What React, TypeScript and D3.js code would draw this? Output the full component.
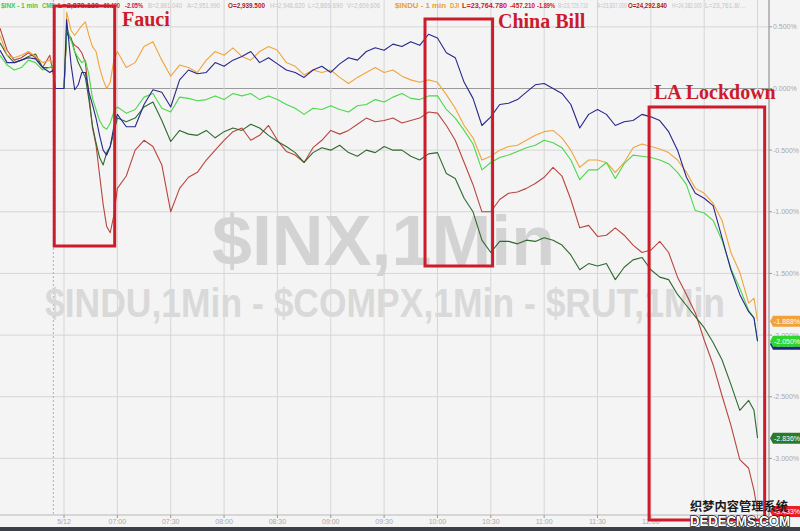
import React from 'react';
import * as d3 from 'd3';

// minutes relative to 06:30 (5/12 open)
const MINUTES = [-36, -32, -28, -24, -20, -16, -12, -8, -6, -5, 0, 1.5, 4, 6, 8, 10, 12, 14, 16, 18, 20, 22, 24, 26, 28, 30,
  35, 40, 45, 50, 55, 60, 65, 70, 75, 80, 85, 90, 95, 100, 105, 110, 115, 120, 125, 130, 135, 140, 145, 150, 155, 160,
  165, 170, 175, 180, 185, 190, 195, 200, 205, 210, 215, 220, 225, 230, 235, 240, 245, 250, 255, 260, 265, 270, 275,
  280, 285, 290, 295, 300, 305, 310, 315, 320, 325, 330, 335, 340, 345, 350, 355, 360, 365, 370, 375, 380, 385, 388, 390];

const NAVY_SERIES = [0.31, 0.21, 0.21, 0.23, 0.25, 0.24, 0.17, 0.13, 0.15, 0, 0,
  0.56, 0.19, -0.01, 0.03, 0.13, 0.13, -0.03, -0.13, -0.24, -0.38, -0.50, -0.54, -0.47, -0.31, -0.21,
  -0.31, -0.31, -0.13, -0.01, -0.03, -0.15, 0.07, 0.15, 0.12, 0.13, 0.21, 0.18, 0.23, 0.26, 0.30, 0.21, 0.25, 0.20, 0.15,
  0.13, 0.09, 0.15, 0.18, 0.13, 0.20, 0.25, 0.23, 0.30, 0.33, 0.31, 0.36, 0.34, 0.38, 0.35, 0.44, 0.41, 0.29, 0.25, 0.05,
  -0.08, -0.30, -0.23, -0.13, -0.12, -0.09, -0.03, 0.03, 0.04, 0.00, -0.04, -0.13, -0.32, -0.21, -0.17, -0.21, -0.30,
  -0.27, -0.26, -0.21, -0.23, -0.26, -0.35, -0.50, -0.72, -0.85, -0.89, -0.95, -1.21, -1.47, -1.67, -1.81, -1.86, -2.05];

const INDU = [0.43, 0.27, 0.25, 0.27, 0.30, 0.26, 0.21, 0.23, 0.21, 0, 0,
  0.62, 0.47, 0.43, 0.47, 0.51, 0.54, 0.43, 0.34, 0.30, 0.17, 0.07, 0.00, 0.05, 0.23, 0.30,
  0.17, 0.21, 0.34, 0.38, 0.23, 0.10, 0.19, 0.17, 0.13, 0.23, 0.30, 0.27, 0.33, 0.26, 0.23, 0.30, 0.34, 0.31, 0.21,
  0.18, 0.11, 0.15, 0.13, 0.15, 0.09, 0.04, 0.09, 0.13, 0.17, 0.13, 0.15, 0.10, 0.07, 0.05, 0.07, 0.05, -0.05, -0.16, -0.30,
  -0.40, -0.58, -0.55, -0.50, -0.47, -0.46, -0.42, -0.38, -0.35, -0.34, -0.40, -0.50, -0.64, -0.58, -0.58, -0.60, -0.68,
  -0.60, -0.48, -0.45, -0.47, -0.49, -0.52, -0.58, -0.68, -0.81, -0.85, -0.93, -1.07, -1.33, -1.49, -1.74, -1.70, -1.888];

const INX = [0.27, 0.19, 0.15, 0.17, 0.23, 0.21, 0.15, 0.17, 0.19, 0, 0,
  0.50, 0.39, 0.30, 0.25, 0.21, 0.23, 0.11, -0.08, -0.17, -0.26, -0.31, -0.33, -0.28, -0.19, -0.15,
  -0.20, -0.17, -0.07, -0.04, -0.16, -0.19, -0.07, -0.08, -0.10, -0.09, -0.06, -0.09, -0.04, -0.06, -0.04, -0.09, -0.06,
  -0.09, -0.13, -0.16, -0.21, -0.16, -0.17, -0.14, -0.17, -0.19, -0.14, -0.13, -0.09, -0.11, -0.07, -0.04, -0.08, -0.09,
  -0.06, -0.06, -0.17, -0.24, -0.34, -0.45, -0.66, -0.60, -0.56, -0.54, -0.51, -0.48, -0.46, -0.42, -0.44, -0.48, -0.58,
  -0.74, -0.66, -0.66, -0.60, -0.73, -0.61, -0.54, -0.55, -0.56, -0.58, -0.61, -0.68, -0.78, -0.99, -1.01, -1.07, -1.23,
  -1.46, -1.62, -1.80, -1.86, -2.05];

const DKGREEN_SERIES = [0.37, 0.27, 0.21, 0.23, 0.26, 0.28, 0.17, 0.17, 0.18, 0, 0,
  0.46, 0.41, 0.30, 0.21, 0.15, 0.09, -0.09, -0.30, -0.44, -0.56, -0.62, -0.52, -0.47, -0.36, -0.24,
  -0.27, -0.24, -0.15, -0.11, -0.26, -0.43, -0.34, -0.37, -0.38, -0.34, -0.40, -0.35, -0.32, -0.34, -0.29, -0.32, -0.38,
  -0.43, -0.47, -0.52, -0.60, -0.52, -0.48, -0.50, -0.46, -0.52, -0.55, -0.50, -0.52, -0.47, -0.50, -0.50, -0.55, -0.58,
  -0.53, -0.52, -0.69, -0.73, -0.89, -1.00, -1.23, -1.33, -1.24, -1.24, -1.26, -1.23, -1.24, -1.21, -1.23, -1.27, -1.35,
  -1.47, -1.42, -1.44, -1.42, -1.55, -1.45, -1.39, -1.37, -1.47, -1.53, -1.55, -1.67, -1.76, -1.85, -1.94, -2.06, -2.20,
  -2.40, -2.61, -2.53, -2.61, -2.836];

const RED_SERIES = [0.49, 0.31, 0.23, 0.25, 0.29, 0.25, 0.17, 0.27, 0.11, 0, 0,
  0.45, 0.39, 0.35, 0.33, 0.29, 0.21, -0.05, -0.32, -0.46, -0.70, -0.94, -1.12, -1.17, -1.03, -0.81,
  -0.71, -0.50, -0.42, -0.47, -0.62, -1.00, -0.81, -0.72, -0.68, -0.58, -0.50, -0.42, -0.35, -0.32, -0.42, -0.38, -0.30,
  -0.42, -0.51, -0.54, -0.60, -0.48, -0.42, -0.34, -0.37, -0.34, -0.29, -0.24, -0.27, -0.26, -0.24, -0.28, -0.26, -0.24,
  -0.19, -0.20, -0.30, -0.42, -0.60, -0.78, -1.00, -1.00, -0.90, -0.85, -0.84, -0.81, -0.77, -0.72, -0.64, -0.71, -0.90,
  -1.13, -1.11, -1.20, -1.19, -1.13, -1.19, -1.27, -1.33, -1.31, -1.24, -1.33, -1.53, -1.67, -1.82, -2.04, -2.24, -2.49,
  -2.73, -3.01, -3.08, -3.26, -3.43];

const X_TICKS = [0, 30, 60, 90, 120, 150, 180, 210, 240, 270, 300, 330, 360, 390];
const X_TICK_LABELS = ['5/12', '07:00', '07:30', '08:00', '08:30', '09:00', '09:30', '10:00', '10:30', '11:00', '11:30', '12:00', '12:30', ''];
const Y_TICKS = [0.5, 0, -0.5, -1, -1.5, -2, -2.5, -3];

const LAST_LABELS = [
  { name: 'navy', value: -2.05, text: '-2.050%', color: '#1f2a86', dy: 3 },
  { name: 'INDU', value: -1.888, text: '-1.888%', color: '#f2a23a', dy: 0 },
  { name: 'INX', value: -2.05, text: '-2.050%', color: '#2fd42f', dy: 0 },
  { name: 'dkgreen', value: -2.836, text: '-2.836%', color: '#2b7a2b', dy: 0 },
  { name: 'red', value: -3.43, text: '-3.433%', color: '#e8202a', dy: 0 },
];

const EVENTS = [
  { label: 'Fauci', t0: -5.5, t1: 28.5, top: 6, bottom: 246, tx: 122, ty: 26 },
  { label: 'China Bill', t0: 203, t1: 241, top: 19, bottom: 266, tx: 498, ty: 28 },
  { label: 'LA Lockdown', t0: 329, t1: 394, top: 107, bottom: 520, tx: 654, ty: 99 },
];

const HEADER = [
  { x: 1, len: 37, t: '$INX - 1 min', c: '#45c845', w: 700 },
  { x: 42, len: 13, t: 'CME', c: '#45c845', w: 700 },
  { x: 58, len: 41, t: 'L=2,870.130', c: '#d01818', w: 700 },
  { x: 102, len: 18, t: '-60.190', c: '#d01818', w: 700 },
  { x: 125, len: 18, t: '-2.05%', c: '#d01818', w: 700 },
  { x: 148, len: 34, t: 'B=2,861.040', c: '#c4c4c4', w: 400 },
  { x: 187, len: 33, t: 'A=2,951.990', c: '#c4c4c4', w: 400 },
  { x: 228, len: 37, t: 'O=2,939.500', c: '#b01818', w: 700 },
  { x: 270, len: 35, t: 'H=2,946.820', c: '#c4c4c4', w: 400 },
  { x: 308, len: 35, t: 'L=2,869.690', c: '#c4c4c4', w: 400 },
  { x: 347, len: 33, t: 'V=2,609,606', c: '#c4c4c4', w: 400 },
  { x: 395, len: 51, t: '$INDU - 1 min', c: '#e8a030', w: 700 },
  { x: 450, len: 9, t: 'DJI', c: '#e8a030', w: 700 },
  { x: 462, len: 45, t: 'L=23,764.780', c: '#d01818', w: 700 },
  { x: 510, len: 25, t: '-457.210', c: '#d01818', w: 700 },
  { x: 537, len: 18, t: '-1.89%', c: '#d01818', w: 700 },
  { x: 558, len: 30, t: 'B=23,729.710', c: '#c4c4c4', w: 400 },
  { x: 597, len: 30, t: 'A=23,837.000', c: '#c4c4c4', w: 400 },
  { x: 628, len: 39, t: 'O=24,292.840', c: '#b01818', w: 700 },
  { x: 672, len: 30, t: 'H=24,382.000', c: '#c4c4c4', w: 400 },
  { x: 705, len: 40, t: 'L=23,761.8/...', c: '#c4c4c4', w: 400 },
];

export default function App() {
  const axisX = 769;
  const axisY = 515;
  const x = d3.scaleLinear().domain([-36, 397]).range([0, 770]);
  const y = d3.scaleLinear().domain([0, -3]).range([88.5, 458.4]);
  const line = d3.line<number>().x((_, i) => x(MINUTES[i])).y((d) => y(d));

  const series = [
    { key: 'red', data: RED_SERIES, color: '#b9453f' },
    { key: 'dkgreen', data: DKGREEN_SERIES, color: '#2e6a2e' },
    { key: 'INDU', data: INDU, color: '#f0a43c' },
    { key: 'INX', data: INX, color: '#49d949' },
    { key: 'navy', data: NAVY_SERIES, color: '#27278c' },
  ];

  const red = '#cc1b2b';

  return (
    <svg width={800} height={531} style={{ position: 'absolute', left: 0, top: 0 }}
      fontFamily="'Liberation Sans', Arial, sans-serif">
      <defs>
        <clipPath id="plot"><rect x={0} y={8} width={axisX} height={axisY - 8} /></clipPath>
      </defs>
      <rect x={0} y={0} width={800} height={531} fill="#f4f4f4" />

      {/* grid */}
      {Y_TICKS.map((v) => (
        <line key={'gy' + v} x1={0} x2={axisX} y1={y(v)} y2={y(v)}
          stroke={v === 0 ? '#9a9a9a' : '#d6d6d6'} strokeWidth={1} />
      ))}
      {X_TICKS.map((m) => (
        <line key={'gx' + m} x1={x(m)} x2={x(m)} y1={0} y2={axisY} stroke="#d6d6d6" strokeWidth={1} />
      ))}
      <line x1={x(-6)} x2={x(-6)} y1={0} y2={axisY} stroke="#b0b0b0" strokeDasharray="2,2" />

      {/* watermark titles */}
      <text x={212} y={265} fontSize={70} fontWeight={700} fill="#d3d3d3" textLength={343}
        lengthAdjust="spacingAndGlyphs">$INX,1Min</text>
      <text x={45} y={317} fontSize={40} fontWeight={700} fill="#d9d9d9" textLength={680}
        lengthAdjust="spacingAndGlyphs">$INDU,1Min - $COMPX,1Min - $RUT,1Min</text>

      {/* header */}
      {HEADER.map((h, i) => (
        <text key={'h' + i} x={h.x} y={8} fontSize={6.5} fontWeight={h.w} fill={h.c}
          textLength={h.len} lengthAdjust="spacingAndGlyphs">{h.t}</text>
      ))}

      {/* lines */}
      <g clipPath="url(#plot)">
        {series.map((s) => (
          <path key={s.key} d={line(s.data) || ''} fill="none" stroke={s.color} strokeWidth={1.1}
            strokeLinejoin="round" />
        ))}
      </g>

      {/* axes */}
      <line x1={0} x2={axisX} y1={axisY} y2={axisY} stroke="#b8b8b8" />
      {X_TICKS.map((m, i) => (
        <g key={'xt' + m}>
          <line x1={x(m)} x2={x(m)} y1={axisY} y2={axisY + 3} stroke="#999" />
          <text x={x(m)} y={524} fontSize={7} fill="#a8a8a8" textAnchor="middle">{X_TICK_LABELS[i]}</text>
        </g>
      ))}
      <line x1={axisX} x2={axisX} y1={0} y2={527} stroke="#808080" />
      {Y_TICKS.map((v) => (
        <g key={'yt' + v}>
          <line x1={axisX} x2={axisX + 3} y1={y(v)} y2={y(v)} stroke="#999" />
          <text x={axisX + 4} y={y(v) + 2.5} fontSize={7} fill="#a8a8a8">{v.toFixed(3) + '%'}</text>
        </g>
      ))}

      {/* annotations */}
      {EVENTS.map((e) => (
        <g key={e.label}>
          <rect x={x(e.t0)} y={e.top} width={x(e.t1) - x(e.t0)} height={e.bottom - e.top}
            fill="none" stroke={red} strokeWidth={3} />
          <text x={e.tx} y={e.ty} fontSize={20} fontWeight={700} fill={red}
            fontFamily="'Liberation Serif', 'Times New Roman', serif">{e.label}</text>
        </g>
      ))}

      {/* last value labels */}
      {LAST_LABELS.map((l) => {
        const cy = Math.min(y(l.value), 521) + l.dy;
        return (
          <g key={'ll' + l.name}>
            <path d={`M${axisX + 1},${cy} L${axisX + 4},${cy - 5.5} L800,${cy - 5.5} L800,${cy + 5.5} L${axisX + 4},${cy + 5.5} Z`}
              fill={l.color} />
            <text x={axisX + 5} y={cy + 2.5} fontSize={7} fill="#ffffff">{l.text}</text>
          </g>
        );
      })}

      {/* site watermark */}
      <text x={690} y={511} fontSize={12} fontWeight={700} fill="#1a1a1a"
        fontFamily="'Noto Sans CJK SC', sans-serif" textLength={98} lengthAdjust="spacingAndGlyphs">织梦内容管理系统</text>
      <text x={690} y={526} fontSize={15} fontWeight={700} fill="#ffffff" stroke="#111" strokeWidth={1.6}
        paintOrder="stroke" textLength={100} lengthAdjust="spacingAndGlyphs">DEDECMS.COM</text>

      <rect x={0} y={527} width={800} height={4} fill="#3b3f48" />
    </svg>
  );
}
